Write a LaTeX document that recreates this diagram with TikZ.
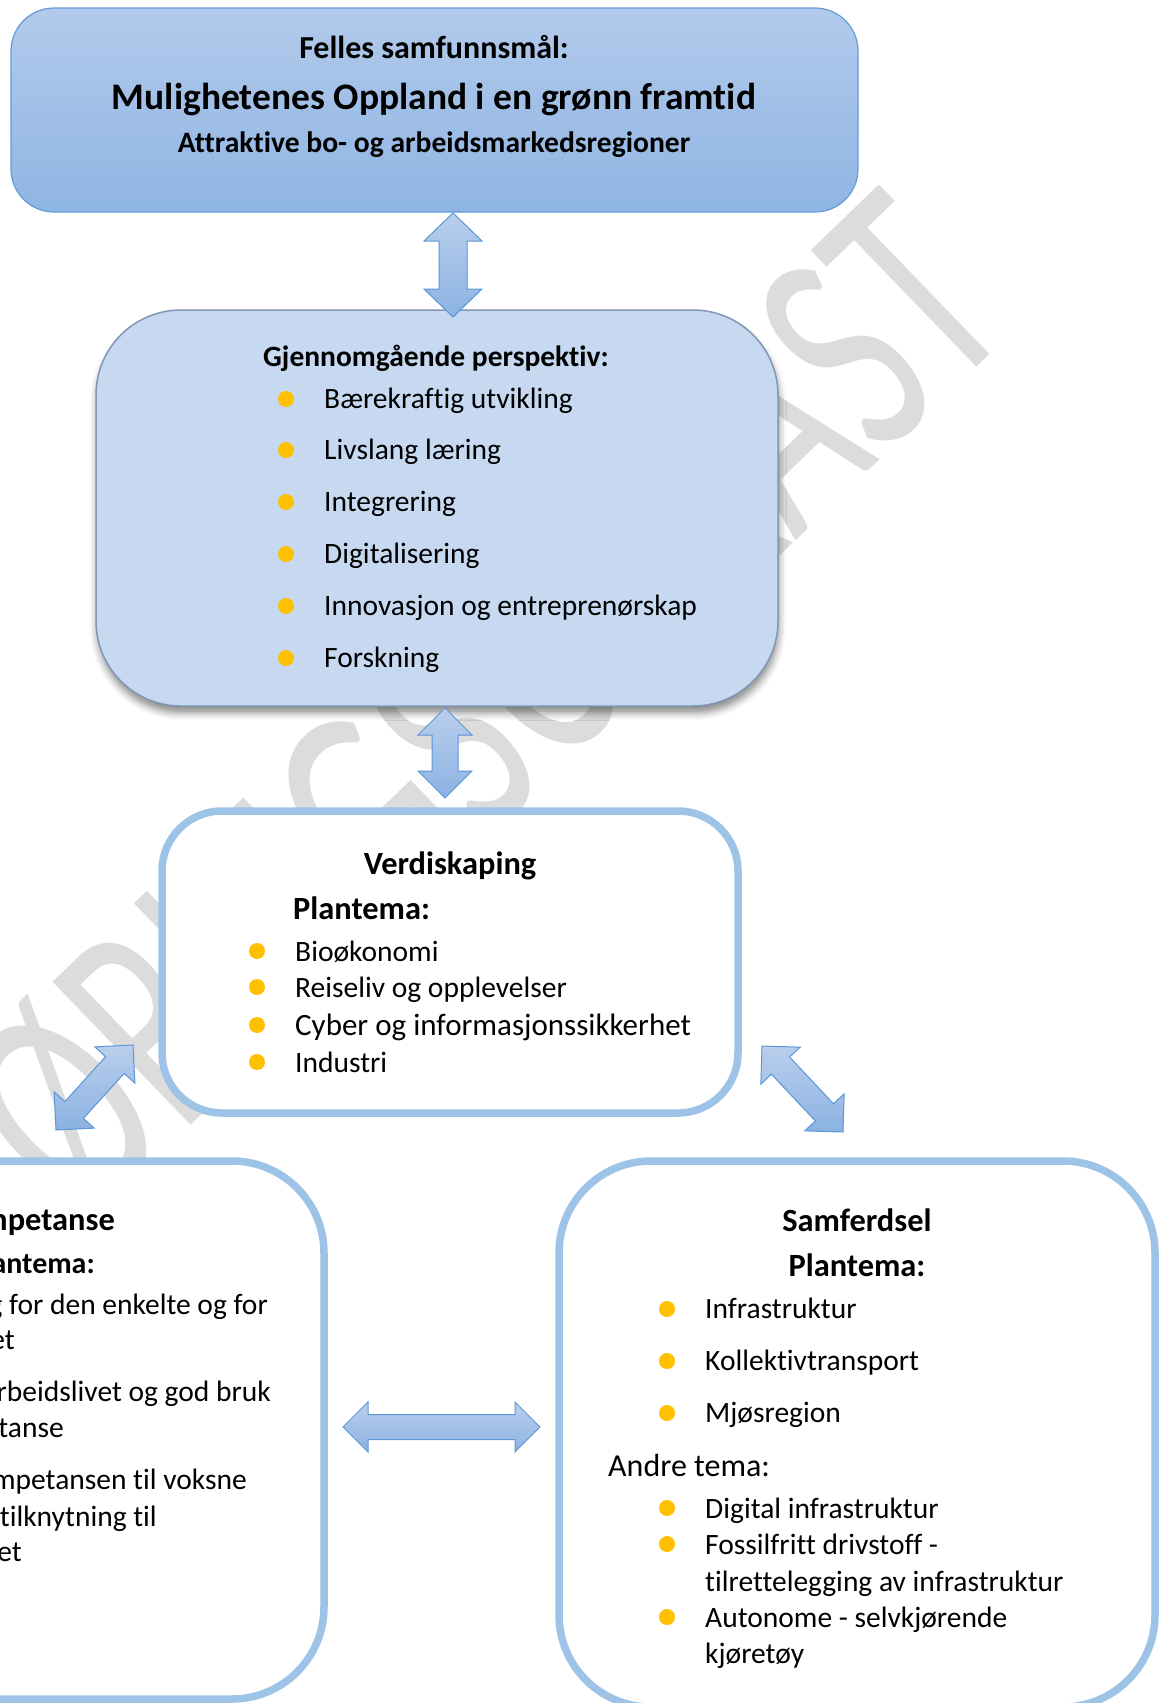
\documentclass[tikz,border=0pt]{standalone}
\usepackage{fontspec}
\setmainfont{Carlito}[Ligatures=NoCommon]
\usetikzlibrary{calc,shadows.blur}
\definecolor{bord}{RGB}{157,195,230}
\definecolor{bul}{RGB}{255,192,0}
\definecolor{tboxtop}{RGB}{178,202,235}
\definecolor{tboxbot}{RGB}{143,181,227}
\definecolor{tboxline}{RGB}{100,155,215}
\definecolor{pbox}{RGB}{198,217,241}
\definecolor{pboxline}{RGB}{130,150,180}
\definecolor{arrtop}{RGB}{186,207,237}
\definecolor{arrbot}{RGB}{139,178,226}
\definecolor{arrline}{RGB}{91,150,215}
\definecolor{wmgray}{RGB}{220,220,220}
\tikzset{
  body/.style={font=\fontsize{29.5}{35}\selectfont, inner sep=0pt, anchor=base west},
  bodyR/.style={font=\fontsize{29.5}{35}\selectfont, inner sep=0pt, anchor=base east},
  headtext/.style={font=\fontsize{32.4}{38}\selectfont\bfseries, inner sep=0pt, anchor=base},
  headL/.style={font=\fontsize{32.4}{38}\selectfont\bfseries, inner sep=0pt, anchor=base west},
  headR/.style={font=\fontsize{32.4}{38}\selectfont\bfseries, inner sep=0pt, anchor=base east},
  bulletdot/.style={circle, fill=bul, minimum size=16pt, inner sep=0pt},
  whitebox/.style={draw=bord, line width=7.5pt, fill=white, inner sep=0pt},
  blockarrow/.style={draw=arrline, line width=1pt, top color=arrtop, bottom color=arrbot, line join=miter},
  wm/.style={text=wmgray, font=\fontsize{310}{320}\selectfont, inner sep=0pt},
}
\newcommand\blockarr[6]{%
  \coordinate (#1ha) at ($(#2)!#6!(#3)$);
  \coordinate (#1hb) at ($(#3)!#6!(#2)$);
  \path[blockarrow] (#2)
    -- ($(#1ha)!#4!90:(#3)$) -- ($(#1ha)!#5!90:(#3)$)
    -- ($(#1hb)!#5!-90:(#2)$) -- ($(#1hb)!#4!-90:(#2)$)
    -- (#3)
    -- ($(#1hb)!#4!90:(#2)$) -- ($(#1hb)!#5!90:(#2)$)
    -- ($(#1ha)!#5!-90:(#3)$) -- ($(#1ha)!#4!-90:(#3)$)
    -- cycle;
}
\begin{document}
\begin{tikzpicture}[x=1pt,y=-1pt]
\useasboundingbox (0,0) rectangle (1162,1703);
\begin{scope}
\clip (0,0) rectangle (1162,1703);
% watermark
\node[wm, rotate=44, anchor=base east] (wmark) at (1019,326) {\scalebox{0.66}[1]{HØRINGSUTKAST}};

% boxes
\node[draw=tboxline, line width=1.2pt, top color=tboxtop, bottom color=tboxbot,
      rounded corners=43pt, minimum width=847pt, minimum height=204pt, inner sep=0pt]
      (goal) at (434.5,110) {};
\node[fill=pbox, draw=pboxline, line width=1.5pt, rounded corners=85pt,
      minimum width=682pt, minimum height=396pt, inner sep=0pt,
      blur shadow={shadow xshift=1pt, shadow yshift=-7pt, shadow blur radius=7pt, shadow opacity=45}]
      (persp) at (437,508) {};
\node[whitebox, rounded corners=60pt, minimum width=576pt, minimum height=302pt] (verdi) at (450,962) {};
\node[whitebox, rounded corners=92pt, minimum width=596pt, minimum height=538pt] (komp) at (26,1430) {};
\node[whitebox, rounded corners=92pt, minimum width=596pt, minimum height=546pt] (samf) at (857,1434) {};

% connectors (block double arrows)
\coordinate (a1s) at (453,213); \coordinate (a1e) at (453,317);
\coordinate (a2s) at (445,708); \coordinate (a2e) at (445,798);
\coordinate (a3s) at (56,1130); \coordinate (a3e) at (133,1045);
\coordinate (a4s) at (762,1046); \coordinate (a4e) at (843,1132);
\coordinate (a5s) at (343,1427); \coordinate (a5e) at (540,1427);
\blockarr{a1}{a1s}{a1e}{29pt}{14pt}{28pt}
\blockarr{a2}{a2s}{a2e}{27pt}{13pt}{27pt}
\blockarr{a3}{a3s}{a3e}{27pt}{12.5pt}{27pt}
\blockarr{a4}{a4s}{a4e}{27pt}{12.5pt}{27pt}
\blockarr{a5}{a5s}{a5e}{25pt}{12.5pt}{25pt}

% top box text
\node[headtext, font=\fontsize{32}{38}\selectfont\bfseries] (g1) at (434,58) {Felles samfunnsmål:};
\node[headtext, font=\fontsize{37.5}{44}\selectfont\bfseries] (g2) at (434,109) {Mulighetenes Oppland i en grønn framtid};
\node[headtext, font=\fontsize{29.6}{35}\selectfont\bfseries] (g3) at (434,152) {Attraktive bo- og arbeidsmarkedsregioner};

% perspectives
\node[headtext, font=\fontsize{29.5}{35}\selectfont\bfseries] (p0) at (436,366) {Gjennomgående perspektiv:};
\foreach \yy/\tt [count=\i] in {399/Bærekraftig utvikling, 450/Livslang læring, 502/Integrering,
    554/Digitalisering, 606/Innovasjon og entreprenørskap, 658/Forskning}{
  \node[bulletdot] (pb\i) at (286,\yy) {};
  \node[body] (pt\i) at (324,\yy+9.5) {\tt};
}

% Verdiskaping
\node[headtext] (v0) at (450,874) {Verdiskaping};
\node[headL] (v1) at (293,919) {Plantema:};
\node[bulletdot] (vb1) at (257,951) {};
\node[body] (vt1) at (295,961) {Bioøkonomi};
\node[bulletdot] (vb2) at (257,987) {};
\node[body] (vt2) at (295,997) {Reiseliv og opplevelser};
\node[bulletdot] (vb3) at (257,1025) {};
\node[body, font=\fontsize{31}{37}\selectfont] (vt3) at (295,1035.5) {Cyber og informasjonssikkerhet};
\node[bulletdot] (vb4) at (257,1062) {};
\node[body] (vt4) at (295,1072) {Industri};

% Kompetanse (cut at left edge)
\node[headR] (k1) at (115,1230) {mpetanse};
\node[headR, font=\fontsize{30}{36}\selectfont\bfseries] (k2) at (95,1273) {antema:};
\node[bodyR] (k3) at (268,1314) {g for den enkelte og for};
\node[bodyR] (k4) at (15,1349) {et};
\node[bodyR] (k5) at (271,1401) {rbeidslivet og god bruk};
\node[bodyR] (k6) at (64,1437) {tanse};
\node[bodyR] (k7) at (247,1489) {mpetansen til voksne};
\node[bodyR] (k8) at (157,1526) {tilknytning til};
\node[bodyR] (k9) at (22,1561) {et};

% Samferdsel
\node[headtext] (s0) at (857,1231) {Samferdsel};
\node[headtext] (s1) at (857,1276) {Plantema:};
\foreach \yy/\tt [count=\i] in {1309/Infrastruktur, 1361/Kollektivtransport, 1413/Mjøsregion}{
  \node[bulletdot] (sb\i) at (667,\yy) {};
  \node[body] (st\i) at (705,\yy+9.5) {\tt};
}
\node[body, font=\fontsize{32}{38}\selectfont] (s2) at (608,1476.5) {Andre tema:};
\node[bulletdot] (sc1) at (667,1508) {};
\node[body] (su1) at (705,1518) {Digital infrastruktur};
\node[bulletdot] (sc2) at (667,1544) {};
\node[body] (su2) at (705,1554) {Fossilfritt drivstoff -};
\node[body] (su3) at (705,1591) {tilrettelegging av infrastruktur};
\node[bulletdot] (sc3) at (667,1617) {};
\node[body] (su4) at (705,1627) {Autonome - selvkjørende};
\node[body] (su5) at (705,1663) {kjøretøy};
\end{scope}
\end{tikzpicture}
\end{document}
